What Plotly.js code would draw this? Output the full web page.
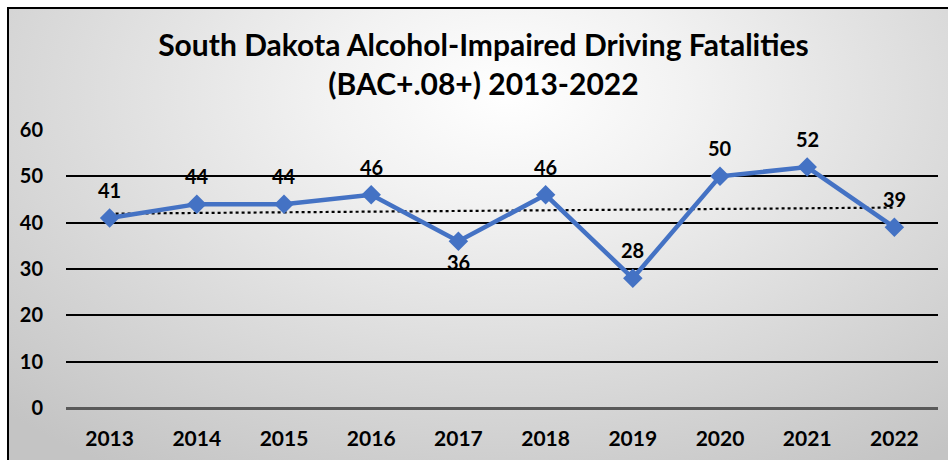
<!DOCTYPE html>
<html>
<head>
<meta charset="utf-8">
<script src="https://cdn.plot.ly/plotly-3.0.1.min.js"></script>
<style>
  html, body { margin: 0; padding: 0; background: #ffffff; width: 948px; height: 460px; overflow: hidden; }
  #frame {
    position: absolute; left: 7px; top: 7px; width: 960px; height: 470px;
    border-left: 2px solid #000; border-top: 2px solid #000;
    background: radial-gradient(ellipse 75% 95% at 52% 18%, #ffffff 0%, #f2f2f2 25%, #dcdcdc 60%, #c4c4c4 100%);
  }
  #chart { position: absolute; left: 0; top: 0; width: 948px; height: 460px; }
</style>
</head>
<body>
<div id="frame"></div>
<div id="chart"></div>
<script>
const years = ["2013", "2014", "2015", "2016", "2017", "2018", "2019", "2020", "2021", "2022"];
const fatalities = [41, 44, 44, 46, 36, 46, 28, 50, 52, 39];
const labelBelow = [false, false, false, false, true, false, false, false, false, false];
const yTicks = [0, 10, 20, 30, 40, 50, 60];
const chartTitle = "South Dakota Alcohol-Impaired Driving Fatalities<br>(BAC+.08+) 2013-2022";

// Linear trendline (least squares over the series, as in the source spreadsheet chart)
const n = fatalities.length;
const idx = fatalities.map((_, i) => i);
const mx = idx.reduce((a, b) => a + b, 0) / n;
const my = fatalities.reduce((a, b) => a + b, 0) / n;
let sxy = 0, sxx = 0;
for (let i = 0; i < n; i++) { sxy += (idx[i] - mx) * (fatalities[i] - my); sxx += (idx[i] - mx) ** 2; }
const slope = sxy / sxx;
const trend = idx.map(i => my + slope * (i - mx));

const FONT = "Lato, 'Open Sans', sans-serif";

const traces = [
  {
    x: years, y: trend, type: "scatter", mode: "lines",
    line: { color: "#000000", width: 2.2, dash: "dot" },
    hoverinfo: "skip", showlegend: false
  },
  {
    x: years, y: fatalities, type: "scatter", mode: "lines+markers",
    line: { color: "#4472C4", width: 4.5 },
    marker: { symbol: "diamond", size: 15, color: "#4472C4" },
    showlegend: false
  }
];

// category axis: annotations use the category's serial index
const annotations = years.map((yr, i) => ({
  x: i, y: fatalities[i], xref: "x", yref: "y",
  text: String(fatalities[i]), showarrow: false,
  yshift: labelBelow[i] ? -21 : 28,
  font: { family: FONT, size: 20, color: "#000000", weight: "bold" }
}));

const layout = {
  width: 948, height: 460,
  paper_bgcolor: "rgba(0,0,0,0)",
  plot_bgcolor: "rgba(0,0,0,0)",
  margin: { l: 66, r: 10, t: 130, b: 52 },
  title: {
    text: chartTitle,
    x: 0.51, xanchor: "center",
    y: 0.878, yanchor: "middle", yref: "container",
    font: { family: FONT, size: 30, color: "#000000", weight: "bold" }
  },
  xaxis: {
    type: "category",
    range: [-0.5, 9.5],
    showgrid: false, showline: false, zeroline: false,
    ticks: "outside", ticklen: 12, tickcolor: "rgba(0,0,0,0)",
    tickfont: { family: FONT, size: 21, color: "#000000", weight: "bold" }
  },
  yaxis: {
    range: [0, 60],
    tickvals: yTicks,
    showgrid: true, gridcolor: "#000000", gridwidth: 2,
    zeroline: true, zerolinecolor: "#595959", zerolinewidth: 3,
    showline: false,
    ticks: "outside", ticklen: 18, tickcolor: "rgba(0,0,0,0)",
    tickfont: { family: FONT, size: 20, color: "#000000", weight: "bold" }
  },
  annotations: annotations
};

Plotly.newPlot("chart", traces, layout, { displayModeBar: false, staticPlot: true });
</script>
</body>
</html>
